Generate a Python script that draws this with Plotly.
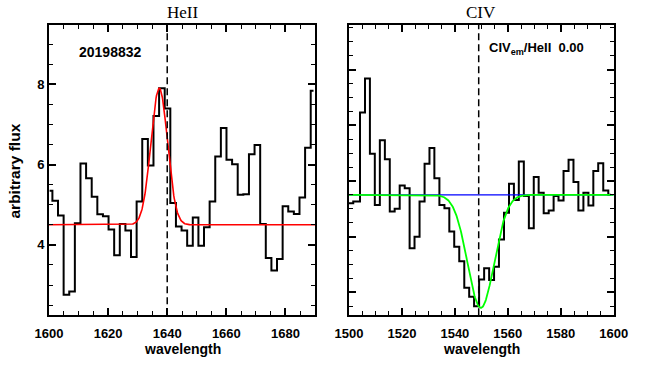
import numpy as np
import plotly.graph_objects as go

# HeII panel: binned spectrum (bin centres, arbitrary flux)
heii_wave = [1600.2, 1602.1, 1604.0, 1605.9, 1607.8, 1609.7, 1611.6, 1613.5, 1615.4, 1617.3,
             1619.2, 1621.1, 1623.0, 1624.9, 1626.8, 1628.7, 1630.6, 1632.5, 1634.4, 1636.3,
             1638.2, 1640.1, 1642.0, 1643.9, 1645.8, 1647.7, 1649.6, 1651.5, 1653.4, 1655.3,
             1657.2, 1659.1, 1661.0, 1662.9, 1664.8, 1666.7, 1668.6, 1670.5, 1672.4, 1674.3,
             1676.2, 1678.1, 1680.0, 1681.9, 1683.8, 1685.7, 1687.6, 1689.5]
heii_flux = [5.35, 5.10, 4.73, 2.76, 2.84, 4.54, 6.03, 5.66, 5.20, 4.76,
             4.71, 4.38, 3.74, 4.52, 4.36, 3.70, 5.08, 6.64, 5.98, 7.21,
             7.90, 7.40, 5.04, 4.46, 4.36, 3.98, 4.68, 3.98, 4.44, 5.08,
             6.20, 6.91, 6.12, 6.01, 5.25, 5.26, 6.26, 6.49, 4.52, 3.67,
             3.36, 3.65, 4.96, 4.83, 4.77, 5.18, 6.42, 7.84]

# CIV panel: binned spectrum
civ_wave = [1500.0, 1503.2, 1505.1, 1507.0, 1508.8, 1510.7, 1512.6, 1514.5, 1516.3, 1518.2,
            1520.1, 1522.0, 1523.8, 1525.7, 1527.6, 1529.5, 1531.3, 1533.2, 1535.1, 1537.0,
            1538.8, 1540.7, 1542.6, 1544.5, 1546.3, 1548.2, 1550.1, 1552.0, 1553.9, 1555.7,
            1557.6, 1559.5, 1561.4, 1563.2, 1565.1, 1567.0, 1568.9, 1570.7, 1572.6, 1574.5,
            1576.4, 1578.2, 1580.1, 1582.0, 1583.9, 1585.7, 1587.6, 1589.5, 1591.4, 1593.2,
            1595.1, 1597.0, 1598.9]
civ_flux = [2.60, 2.63, 4.23, 4.84, 3.49, 2.57, 3.73, 3.39, 2.45, 2.50,
            2.92, 2.87, 1.79, 2.00, 2.63, 3.31, 3.59, 3.05, 2.57, 2.51,
            2.09, 1.82, 1.56, 1.08, 0.92, 0.75, 1.23, 1.43, 1.22, 1.46,
            1.95, 2.43, 2.95, 2.66, 3.35, 2.73, 2.15, 3.07, 2.79, 2.42,
            2.47, 2.73, 2.65, 3.18, 3.38, 2.98, 2.47, 2.79, 2.56, 3.18,
            3.32, 2.83, 2.75]

# gaussian fit parameters
heii_cont, heii_amp, heii_cen, heii_sig = 4.5, 3.4, 1637.3, 2.8
civ_cont, civ_amp, civ_cen, civ_sig = 2.75, -2.03, 1549.8, 5.0
heii_rest = 1640.0
civ_rest = 1549.0

object_id = "20198832"
ratio_text = "CIV<sub>em</sub>/HeII  0.00"

W, H = 664, 369


def px(x):
    return x / W


def py(y):
    return 1 - y / H


LEFT_DOM = [px(49), px(315)]
RIGHT_DOM = [px(349), px(613.7)]
Y_DOM = [py(315.3), py(24.5)]

fig = go.Figure()

# left panel
fig.add_trace(go.Scatter(x=heii_wave, y=heii_flux, mode="lines", line_shape="hvh",
                         line=dict(color="black", width=2), xaxis="x", yaxis="y"))
xl = np.linspace(1600, 1690, 600)
fig.add_trace(go.Scatter(x=xl, y=heii_cont + heii_amp * np.exp(-(xl - heii_cen) ** 2 / (2 * heii_sig ** 2)),
                         mode="lines", line=dict(color="#ff0000", width=1.6), xaxis="x", yaxis="y"))

# right panel
fig.add_trace(go.Scatter(x=civ_wave, y=civ_flux, mode="lines", line_shape="hvh",
                         line=dict(color="black", width=2), xaxis="x2", yaxis="y2"))
xr = np.linspace(1500, 1600, 600)
fig.add_trace(go.Scatter(x=[1500, 1600], y=[civ_cont, civ_cont], mode="lines",
                         line=dict(color="#0000ff", width=1.4), xaxis="x2", yaxis="y2"))
fig.add_trace(go.Scatter(x=xr, y=civ_cont + civ_amp * np.exp(-(xr - civ_cen) ** 2 / (2 * civ_sig ** 2)),
                         mode="lines", line=dict(color="#00ff00", width=1.8), xaxis="x2", yaxis="y2"))

# rest wavelength markers
for xv, xa in [(heii_rest, "x"), (civ_rest, "x2")]:
    fig.add_shape(type="line", x0=xv, x1=xv, y0=0, y1=1, xref=xa,
                  yref=("y domain" if xa == "x" else "y2 domain"),
                  line=dict(color="black", width=1.5, dash="7px,4px"))

tickfont = dict(family="Liberation Sans", size=13, color="black", weight="bold")
axis_common = dict(showline=True, linecolor="black", linewidth=2, mirror="allticks",
                   ticks="inside", ticklen=7, tickwidth=1.5, tickcolor="black",
                   showgrid=False, zeroline=False, tickfont=tickfont, automargin=False)

fig.update_layout(
    width=W, height=H, autosize=False,
    margin=dict(l=0, r=0, t=0, b=0),
    paper_bgcolor="white", plot_bgcolor="white",
    showlegend=False,
    xaxis=dict(domain=LEFT_DOM, range=[1600, 1690], dtick=20, tick0=1600, anchor="y",
               minor=dict(dtick=5, ticklen=4, tickwidth=1.2, tickcolor="black", ticks="inside"),
               ticklabelstandoff=5, **axis_common),
    yaxis=dict(domain=Y_DOM, range=[2.245, 9.49], dtick=2, tick0=0, anchor="x",
               minor=dict(dtick=0.5, ticklen=4, tickwidth=1.2, tickcolor="black", ticks="inside"),
               ticklabelstandoff=0, **axis_common),
    xaxis2=dict(domain=RIGHT_DOM, range=[1500, 1600], dtick=20, tick0=1500, anchor="y2",
                minor=dict(dtick=5, ticklen=4, tickwidth=1.2, tickcolor="black", ticks="inside"),
                ticklabelstandoff=5, **axis_common),
    yaxis2=dict(domain=Y_DOM, range=[0.587, 5.81], dtick=1, tick0=0, anchor="x2",
                showticklabels=False,
                minor=dict(dtick=0.25, ticklen=4, tickwidth=1.2, tickcolor="black", ticks="inside"),
                **axis_common),
)

lab = dict(family="Liberation Sans", size=14, color="black", weight="bold")
serif = dict(family="Liberation Serif", size=17, color="black")
ann = [
    dict(text="HeII", x=sum(LEFT_DOM) / 2, y=py(12.5), font=serif),
    dict(text="CIV", x=sum(RIGHT_DOM) / 2, y=py(12.5), font=serif),
    dict(text="wavelength", x=sum(LEFT_DOM) / 2, y=py(349), font=lab),
    dict(text="wavelength", x=sum(RIGHT_DOM) / 2, y=py(349), font=lab),
    dict(text="arbitrary flux", x=px(14), y=py(171.5), textangle=-90,
         font=dict(family="Liberation Sans", size=15.5, color="black", weight="bold")),
    dict(text=object_id, x=px(76.7), y=py(52), xanchor="left",
         font=dict(family="Liberation Sans", size=14, color="black", weight="bold")),
    dict(text=ratio_text, x=px(486.7), y=py(48), xanchor="left",
         font=dict(family="Liberation Sans", size=13, color="black", weight="bold")),
]
for a in ann:
    a.setdefault("xanchor", "center")
    fig.add_annotation(xref="paper", yref="paper", yanchor="middle", showarrow=False, **a)

# drop the default page margin so the figure fills the window exactly
fig.write_html("out.html", config={"displayModeBar": False},
               post_script="document.body.style.margin = '0';")
